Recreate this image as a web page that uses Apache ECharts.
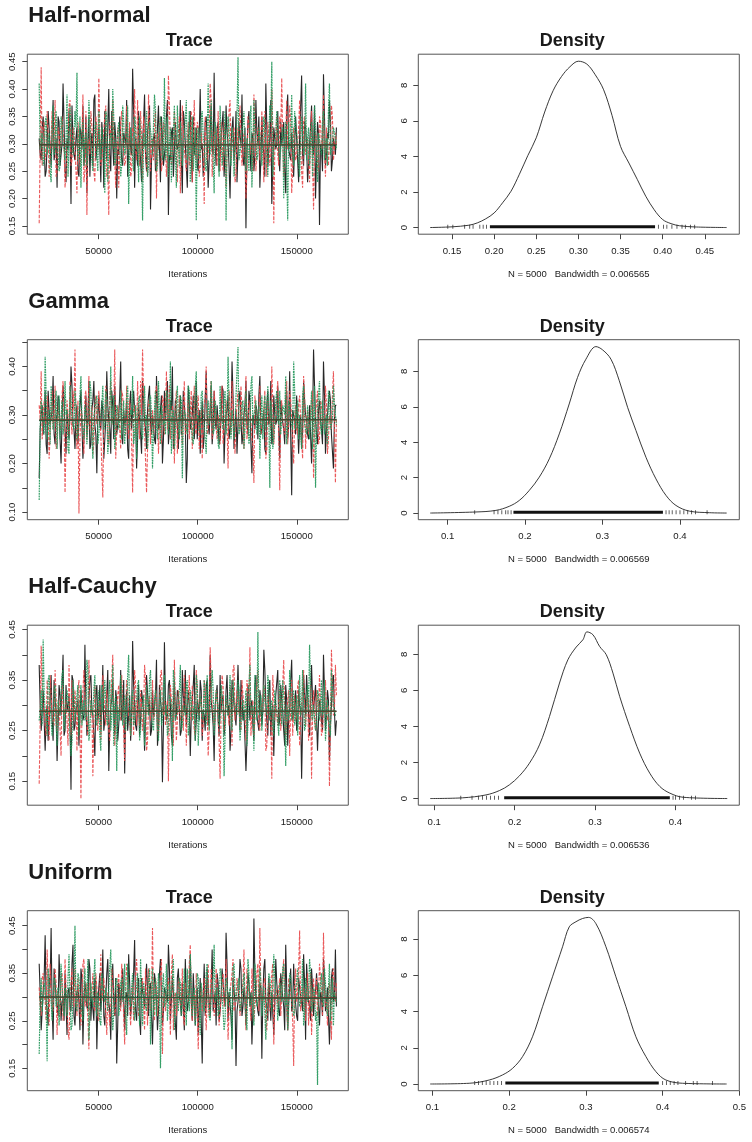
<!DOCTYPE html>
<html><head><meta charset="utf-8">
<script src="https://cdn.jsdelivr.net/npm/echarts@6/dist/echarts.min.js"></script>
<style>html,body{margin:0;padding:0;background:#fff}#c{width:752px;height:1142px}</style>
</head><body><div id="c"></div>
<script>
// ---------------- DATA ----------------
const priorNames = ['Half-normal', 'Gamma', 'Half-Cauchy', 'Uniform'];
const bandwidths = ['0.006565', '0.006569', '0.006536', '0.006574'];
const sampleN = 5000;
const iterStart = 20000, iterEnd = 170000;
const traceXTicks = [50000, 100000, 150000];

// Each chain is read as two interleaved sample lists (odd / even draws)
// Half-normal chains
const hnChain1 = [0.31,0.27,0.35,0.24,0.30,0.33,0.26,0.38,0.29,0.22,0.34,0.28,0.41,0.25,0.31,0.36,0.19,0.30,0.27,0.33,0.24,0.32,0.37,0.28,0.21,0.35,0.30,0.26,0.39,0.29,0.33,0.23,0.31,0.36,0.27,0.40,0.25,0.30,0.34,0.20,0.28,0.35,0.26,0.32,0.38,0.24,0.29,0.437,0.22,0.31,0.36,0.27,0.30,0.39,0.25,0.34,0.18,0.29,0.32,0.26,0.37,0.23,0.31,0.28,0.35,0.17,0.27,0.33,0.24,0.30,0.29,0.38,0.21,0.34,0.26,0.31,0.36,0.23,0.28,0.33,0.25,0.40,0.30,0.27,0.35,0.22,0.32,0.29,0.43,0.26,0.34,0.28,0.31,0.24,0.37,0.30,0.20,0.33,0.27,0.36,0.23,0.31,0.39,0.26,0.146,0.34,0.29,0.32,0.25,0.38,0.30,0.22,0.35,0.28,0.41,0.26,0.31,0.19,0.33,0.29,0.36,0.25,0.30,0.34,0.21,0.39,0.28,0.32,0.24,0.35,0.27,0.31,0.425,0.26,0.33,0.23,0.30,0.37,0.28,0.20,0.34,0.152,0.29,0.427,0.26,0.32,0.38,0.25,0.31,0.28];
const hnChain1b = [0.28,0.33,0.30,0.25,0.36,0.29,0.32,0.27,0.31,0.35,0.26,0.30,0.34,0.23,0.29,0.32,0.37,0.28,0.31,0.25,0.33,0.29,0.26,0.35,0.30,0.24,0.32,0.38,0.27,0.31,0.29,0.34,0.22,0.30,0.33,0.28,0.36,0.26,0.31,0.29,0.35,0.27,0.32,0.30,0.24,0.33,0.28,0.36,0.31,0.26,0.30,0.23,0.34,0.28,0.32,0.37,0.27,0.31,0.25,0.33,0.29,0.35,0.26,0.30,0.38,0.28,0.32,0.24,0.34,0.29,0.31,0.27,0.36,0.30,0.22,0.33,0.28,0.35,0.30,0.26,0.32,0.29,0.24,0.34,0.31,0.27,0.37,0.28,0.30,0.33,0.25,0.31,0.36,0.28,0.32,0.26,0.30,0.35,0.29,0.23,0.34,0.30,0.27,0.33,0.29,0.36,0.25,0.31,0.28,0.32,0.35,0.27,0.30,0.24,0.33,0.29,0.38,0.26,0.31,0.30,0.28,0.34,0.31,0.25,0.36,0.29,0.27,0.32,0.30,0.35,0.23,0.31,0.28,0.34,0.30,0.26,0.33,0.29,0.37,0.27,0.32,0.30,0.25,0.35,0.28,0.31,0.34,0.27,0.30,0.33];
const hnChain2 = [0.155,0.44,0.33,0.27,0.36,0.24,0.31,0.29,0.38,0.25,0.32,0.28,0.35,0.22,0.30,0.37,0.26,0.33,0.29,0.21,0.34,0.27,0.39,0.25,0.17,0.31,0.36,0.28,0.23,0.33,0.42,0.26,0.30,0.35,0.24,0.17,0.32,0.38,0.27,0.29,0.22,0.34,0.31,0.26,0.37,0.29,0.24,0.33,0.40,0.27,0.30,0.36,0.23,0.32,0.28,0.39,0.25,0.31,0.34,0.20,0.29,0.35,0.27,0.33,0.24,0.425,0.30,0.26,0.36,0.28,0.32,0.21,0.37,0.29,0.25,0.34,0.31,0.23,0.38,0.27,0.33,0.26,0.30,0.19,0.35,0.28,0.41,0.24,0.32,0.29,0.36,0.25,0.31,0.34,0.22,0.30,0.38,0.27,0.33,0.24,0.29,0.37,0.26,0.32,0.20,0.35,0.28,0.31,0.39,0.25,0.33,0.27,0.36,0.23,0.30,0.34,0.26,0.40,0.155,0.31,0.28,0.35,0.42,0.24,0.32,0.29,0.37,0.21,0.33,0.27,0.30,0.38,0.25,0.34,0.28,0.31,0.23,0.36,0.18,0.32,0.26,0.35,0.29,0.39,0.24,0.33,0.30,0.37,0.27,0.32];
const hnChain2b = [0.30,0.26,0.34,0.29,0.32,0.27,0.36,0.31,0.24,0.33,0.28,0.35,0.30,0.25,0.31,0.38,0.27,0.32,0.29,0.34,0.26,0.31,0.23,0.36,0.30,0.28,0.33,0.25,0.35,0.29,0.32,0.27,0.30,0.37,0.26,0.34,0.29,0.31,0.22,0.33,0.28,0.36,0.31,0.27,0.30,0.34,0.25,0.32,0.29,0.38,0.26,0.31,0.35,0.28,0.24,0.33,0.30,0.27,0.36,0.32,0.29,0.25,0.34,0.31,0.28,0.37,0.26,0.30,0.33,0.23,0.35,0.29,0.32,0.27,0.31,0.26,0.36,0.30,0.28,0.34,0.24,0.32,0.29,0.35,0.27,0.31,0.38,0.28,0.33,0.26,0.30,0.34,0.25,0.31,0.29,0.36,0.27,0.32,0.23,0.33,0.29,0.37,0.28,0.31,0.26,0.34,0.30,0.25,0.35,0.29,0.32,0.27,0.30,0.36,0.24,0.31,0.28,0.33,0.29,0.35,0.26,0.32,0.30,0.27,0.38,0.29,0.34,0.25,0.31,0.28,0.33,0.30,0.22,0.35,0.29,0.27,0.32,0.36,0.28,0.31,0.25,0.34,0.30,0.28,0.33,0.26,0.31,0.35,0.29,0.30];
const hnChain3 = [0.41,0.30,0.26,0.34,0.28,0.32,0.23,0.37,0.29,0.31,0.25,0.35,0.30,0.27,0.39,0.24,0.33,0.28,0.36,0.43,0.29,0.22,0.34,0.31,0.26,0.38,0.30,0.25,0.33,0.28,0.36,0.27,0.31,0.21,0.35,0.29,0.32,0.40,0.26,0.30,0.34,0.24,0.37,0.28,0.31,0.19,0.33,0.27,0.35,0.29,0.23,0.32,0.16,0.30,0.36,0.26,0.34,0.28,0.39,0.25,0.31,0.35,0.27,0.42,0.29,0.24,0.33,0.30,0.37,0.22,0.30,0.34,0.26,0.31,0.38,0.28,0.23,0.35,0.29,0.16,0.33,0.27,0.36,0.30,0.25,0.41,0.28,0.32,0.21,0.34,0.29,0.37,0.26,0.31,0.16,0.35,0.28,0.33,0.24,0.30,0.458,0.27,0.32,0.36,0.25,0.29,0.34,0.22,0.38,0.31,0.28,0.33,0.26,0.35,0.30,0.24,0.37,0.45,0.29,0.32,0.36,0.27,0.31,0.20,0.34,0.16,0.29,0.39,0.26,0.33,0.30,0.24,0.35,0.28,0.41,0.31,0.26,0.34,0.29,0.37,0.23,0.32,0.28,0.36,0.30,0.26,0.41,0.29,0.33,0.31];
const hnChain3b = [0.29,0.32,0.27,0.35,0.30,0.25,0.33,0.28,0.36,0.31,0.26,0.34,0.29,0.31,0.24,0.37,0.30,0.28,0.33,0.27,0.35,0.30,0.26,0.32,0.29,0.38,0.27,0.31,0.34,0.25,0.30,0.33,0.28,0.36,0.23,0.31,0.29,0.35,0.27,0.32,0.30,0.26,0.34,0.29,0.37,0.28,0.31,0.25,0.33,0.30,0.35,0.27,0.32,0.29,0.24,0.34,0.31,0.28,0.36,0.26,0.31,0.33,0.29,0.27,0.35,0.30,0.23,0.32,0.28,0.37,0.26,0.34,0.30,0.31,0.27,0.36,0.29,0.25,0.33,0.30,0.28,0.35,0.31,0.26,0.32,0.29,0.38,0.27,0.34,0.30,0.24,0.31,0.28,0.36,0.30,0.33,0.26,0.32,0.29,0.35,0.27,0.30,0.34,0.28,0.31,0.25,0.37,0.29,0.32,0.27,0.33,0.30,0.26,0.35,0.28,0.31,0.34,0.24,0.30,0.36,0.29,0.27,0.33,0.31,0.25,0.34,0.30,0.28,0.36,0.32,0.26,0.31,0.35,0.29,0.27,0.33,0.30,0.24,0.37,0.28,0.32,0.29,0.34,0.27,0.31,0.36,0.28,0.30,0.33,0.29];
// Gamma chains
const gaChain1 = [0.17,0.30,0.26,0.35,0.22,0.31,0.28,0.38,0.24,0.29,0.33,0.20,0.36,0.27,0.31,0.25,0.40,0.28,0.23,0.32,0.29,0.35,0.21,0.30,0.26,0.37,0.24,0.33,0.28,0.18,0.34,0.27,0.31,0.25,0.39,0.29,0.22,0.32,0.36,0.26,0.30,0.41,0.24,0.28,0.33,0.21,0.35,0.27,0.31,0.19,0.32,0.26,0.37,0.29,0.23,0.34,0.28,0.30,0.25,0.38,0.27,0.31,0.20,0.35,0.29,0.24,0.33,0.40,0.26,0.30,0.23,0.34,0.28,0.32,0.16,0.36,0.27,0.30,0.25,0.37,0.29,0.22,0.33,0.26,0.39,0.28,0.31,0.24,0.35,0.27,0.32,0.25,0.36,0.20,0.30,0.34,0.27,0.41,0.23,0.31,0.28,0.35,0.24,0.30,0.37,0.26,0.33,0.18,0.29,0.32,0.25,0.38,0.27,0.31,0.22,0.35,0.29,0.24,0.34,0.28,0.36,0.21,0.30,0.27,0.33,0.25,0.39,0.135,0.31,0.26,0.34,0.28,0.23,0.37,0.30,0.26,0.32,0.20,0.435,0.29,0.24,0.33,0.27,0.41,0.22,0.30,0.35,0.26,0.19,0.32];
const gaChain1b = [0.27,0.32,0.29,0.24,0.35,0.28,0.31,0.26,0.30,0.34,0.25,0.29,0.33,0.22,0.28,0.31,0.36,0.27,0.30,0.24,0.32,0.28,0.25,0.34,0.29,0.23,0.31,0.37,0.26,0.30,0.28,0.33,0.21,0.29,0.32,0.27,0.35,0.25,0.30,0.28,0.34,0.26,0.31,0.29,0.23,0.32,0.27,0.35,0.30,0.25,0.29,0.22,0.33,0.27,0.31,0.36,0.26,0.30,0.24,0.32,0.28,0.34,0.25,0.29,0.37,0.27,0.31,0.23,0.33,0.28,0.30,0.26,0.35,0.29,0.21,0.32,0.27,0.34,0.29,0.25,0.31,0.28,0.23,0.33,0.30,0.26,0.36,0.27,0.29,0.32,0.24,0.30,0.35,0.27,0.31,0.25,0.29,0.34,0.28,0.22,0.33,0.29,0.26,0.32,0.28,0.35,0.24,0.30,0.27,0.31,0.34,0.26,0.29,0.23,0.32,0.28,0.37,0.25,0.30,0.29,0.27,0.33,0.30,0.24,0.35,0.28,0.26,0.31,0.29,0.34,0.22,0.30,0.27,0.33,0.29,0.25,0.32,0.28,0.36,0.26,0.31,0.29,0.24,0.34,0.27,0.30,0.33,0.26,0.29,0.32];
const gaChain2 = [0.32,0.39,0.25,0.29,0.34,0.21,0.31,0.27,0.36,0.24,0.30,0.28,0.37,0.14,0.33,0.26,0.29,0.35,0.435,0.23,0.097,0.31,0.27,0.34,0.25,0.38,0.29,0.22,0.32,0.28,0.35,0.26,0.13,0.30,0.33,0.24,0.37,0.29,0.435,0.27,0.31,0.23,0.34,0.28,0.36,0.25,0.30,0.14,0.32,0.26,0.29,0.37,0.435,0.27,0.14,0.33,0.24,0.31,0.28,0.36,0.22,0.30,0.34,0.26,0.39,0.29,0.25,0.32,0.20,0.35,0.28,0.31,0.24,0.37,0.27,0.33,0.30,0.23,0.36,0.26,0.34,0.29,0.21,0.32,0.40,0.27,0.31,0.25,0.35,0.28,0.30,0.24,0.36,0.28,0.33,0.19,0.31,0.37,0.26,0.29,0.35,0.27,0.31,0.23,0.38,0.28,0.32,0.25,0.16,0.34,0.29,0.36,0.26,0.31,0.21,0.33,0.28,0.40,0.24,0.30,0.37,0.145,0.33,0.27,0.30,0.24,0.35,0.29,0.20,0.32,0.26,0.34,0.29,0.38,0.23,0.31,0.27,0.33,0.17,0.30,0.35,0.25,0.32,0.28,0.36,0.22,0.30,0.27,0.39,0.16];
const gaChain2b = [0.29,0.25,0.33,0.28,0.31,0.26,0.35,0.30,0.23,0.32,0.27,0.34,0.29,0.24,0.30,0.37,0.26,0.31,0.28,0.33,0.25,0.30,0.22,0.35,0.29,0.27,0.32,0.24,0.34,0.28,0.31,0.26,0.29,0.36,0.25,0.33,0.28,0.30,0.21,0.32,0.27,0.35,0.30,0.26,0.29,0.33,0.24,0.31,0.28,0.37,0.25,0.30,0.34,0.27,0.23,0.32,0.29,0.26,0.35,0.31,0.28,0.24,0.33,0.30,0.27,0.36,0.25,0.29,0.32,0.22,0.34,0.28,0.31,0.26,0.30,0.25,0.35,0.29,0.27,0.33,0.23,0.31,0.28,0.34,0.26,0.30,0.37,0.27,0.32,0.25,0.29,0.33,0.24,0.30,0.28,0.35,0.26,0.31,0.22,0.32,0.28,0.36,0.27,0.30,0.25,0.33,0.29,0.24,0.34,0.28,0.31,0.26,0.29,0.35,0.23,0.30,0.27,0.32,0.28,0.34,0.25,0.31,0.29,0.26,0.37,0.28,0.33,0.24,0.30,0.27,0.32,0.29,0.21,0.34,0.28,0.26,0.31,0.35,0.27,0.30,0.24,0.33,0.29,0.27,0.32,0.25,0.30,0.34,0.28,0.29];
const gaChain3 = [0.125,0.33,0.28,0.42,0.25,0.31,0.36,0.27,0.30,0.23,0.34,0.29,0.26,0.37,0.31,0.22,0.33,0.28,0.35,0.25,0.30,0.38,0.27,0.32,0.24,0.29,0.35,0.21,0.31,0.34,0.26,0.30,0.36,0.28,0.33,0.25,0.40,0.29,0.23,0.32,0.27,0.35,0.30,0.24,0.34,0.28,0.31,0.38,0.26,0.21,0.33,0.29,0.25,0.36,0.30,0.27,0.34,0.19,0.31,0.28,0.37,0.24,0.32,0.29,0.35,0.26,0.41,0.30,0.23,0.33,0.28,0.34,0.17,0.31,0.27,0.36,0.29,0.25,0.32,0.39,0.30,0.26,0.35,0.28,0.22,0.33,0.30,0.37,0.27,0.31,0.24,0.36,0.29,0.33,0.26,0.42,0.28,0.31,0.25,0.34,0.44,0.27,0.32,0.23,0.35,0.29,0.26,0.38,0.30,0.33,0.28,0.21,0.34,0.31,0.27,0.36,0.15,0.30,0.25,0.33,0.29,0.35,0.26,0.32,0.38,0.24,0.31,0.28,0.41,0.27,0.33,0.30,0.23,0.36,0.28,0.32,0.25,0.35,0.29,0.15,0.31,0.37,0.26,0.33,0.29,0.24,0.34,0.28,0.36,0.30];
const gaChain3b = [0.28,0.31,0.26,0.34,0.29,0.24,0.32,0.27,0.35,0.30,0.25,0.33,0.28,0.30,0.23,0.36,0.29,0.27,0.32,0.26,0.34,0.29,0.25,0.31,0.28,0.37,0.26,0.30,0.33,0.24,0.29,0.32,0.27,0.35,0.22,0.30,0.28,0.34,0.26,0.31,0.29,0.25,0.33,0.28,0.36,0.27,0.30,0.24,0.32,0.29,0.34,0.26,0.31,0.28,0.23,0.33,0.30,0.27,0.35,0.25,0.30,0.32,0.28,0.26,0.34,0.29,0.22,0.31,0.27,0.36,0.25,0.33,0.29,0.30,0.26,0.35,0.28,0.24,0.32,0.29,0.27,0.34,0.30,0.25,0.31,0.28,0.37,0.26,0.33,0.29,0.23,0.30,0.27,0.35,0.29,0.32,0.25,0.31,0.28,0.34,0.26,0.29,0.33,0.27,0.30,0.24,0.36,0.28,0.31,0.26,0.32,0.29,0.25,0.34,0.27,0.30,0.33,0.23,0.29,0.35,0.28,0.26,0.32,0.30,0.24,0.33,0.29,0.27,0.35,0.31,0.25,0.30,0.34,0.28,0.26,0.32,0.29,0.23,0.36,0.27,0.31,0.28,0.33,0.26,0.30,0.35,0.27,0.29,0.32,0.28];
// Half-Cauchy chains
const hcChain1 = [0.38,0.25,0.33,0.21,0.30,0.27,0.36,0.23,0.31,0.19,0.34,0.28,0.40,0.25,0.29,0.32,0.133,0.35,0.26,0.30,0.22,0.33,0.27,0.42,0.24,0.31,0.36,0.28,0.20,0.34,0.29,0.25,0.38,0.27,0.32,0.17,0.30,0.35,0.24,0.31,0.26,0.37,0.29,0.165,0.33,0.28,0.23,0.427,0.30,0.25,0.34,0.27,0.31,0.21,0.36,0.29,0.24,0.33,0.28,0.39,0.25,0.31,0.148,0.425,0.27,0.34,0.30,0.22,0.35,0.28,0.32,0.24,0.37,0.29,0.26,0.33,0.20,0.31,0.38,0.27,0.30,0.35,0.23,0.28,0.34,0.26,0.40,0.29,0.19,0.32,0.27,0.36,0.31,0.24,0.33,0.28,0.21,0.35,0.30,0.26,0.38,0.25,0.32,0.29,0.17,0.34,0.27,0.31,0.23,0.36,0.28,0.33,0.26,0.41,0.30,0.24,0.35,0.29,0.20,0.32,0.37,0.27,0.31,0.25,0.34,0.22,0.29,0.39,0.28,0.33,0.26,0.30,0.155,0.36,0.28,0.32,0.24,0.38,0.29,0.34,0.21,0.31,0.27,0.40,0.25,0.33,0.19,0.30,0.36,0.24];
const hcChain1b = [0.30,0.25,0.33,0.28,0.23,0.31,0.27,0.35,0.29,0.26,0.32,0.28,0.24,0.34,0.30,0.27,0.36,0.25,0.29,0.31,0.22,0.33,0.28,0.30,0.26,0.35,0.29,0.24,0.32,0.27,0.34,0.30,0.25,0.29,0.37,0.26,0.31,0.28,0.33,0.23,0.30,0.27,0.35,0.29,0.25,0.32,0.28,0.34,0.26,0.30,0.24,0.33,0.29,0.27,0.36,0.31,0.25,0.28,0.32,0.22,0.34,0.29,0.26,0.31,0.28,0.35,0.24,0.30,0.27,0.33,0.29,0.25,0.32,0.37,0.26,0.30,0.28,0.34,0.23,0.31,0.27,0.33,0.29,0.25,0.35,0.28,0.31,0.26,0.30,0.34,0.24,0.29,0.32,0.27,0.36,0.30,0.25,0.33,0.28,0.26,0.31,0.35,0.27,0.29,0.23,0.32,0.30,0.26,0.34,0.28,0.25,0.31,0.29,0.37,0.27,0.33,0.24,0.30,0.28,0.32,0.26,0.34,0.29,0.22,0.31,0.28,0.35,0.27,0.30,0.25,0.33,0.29,0.26,0.32,0.36,0.28,0.24,0.31,0.29,0.34,0.27,0.30,0.25,0.33,0.28,0.31,0.26,0.35,0.29,0.27];
const hcChain2 = [0.145,0.418,0.30,0.26,0.35,0.23,0.32,0.28,0.37,0.25,0.31,0.20,0.34,0.29,0.27,0.38,0.24,0.30,0.33,0.21,0.35,0.115,0.29,0.32,0.26,0.39,0.28,0.16,0.34,0.27,0.30,0.23,0.36,0.28,0.33,0.25,0.31,0.40,0.22,0.29,0.34,0.27,0.31,0.19,0.35,0.28,0.24,0.32,0.37,0.26,0.29,0.33,0.25,0.38,0.21,0.30,0.27,0.35,0.28,0.32,0.24,0.36,0.29,0.31,0.26,0.15,0.34,0.28,0.39,0.23,0.33,0.27,0.30,0.36,0.22,0.31,0.28,0.34,0.25,0.37,0.29,0.32,0.24,0.35,0.27,0.20,0.415,0.30,0.26,0.33,0.28,0.155,0.36,0.25,0.31,0.29,0.34,0.22,0.38,0.27,0.32,0.26,0.35,0.30,0.23,0.33,0.415,0.28,0.24,0.31,0.37,0.25,0.29,0.34,0.21,0.32,0.27,0.155,0.36,0.30,0.26,0.33,0.28,0.39,0.24,0.31,0.20,0.35,0.29,0.27,0.34,0.22,0.30,0.37,0.26,0.32,0.28,0.155,0.33,0.25,0.31,0.36,0.24,0.29,0.35,0.27,0.14,0.41,0.28,0.38];
const hcChain2b = [0.27,0.33,0.29,0.24,0.31,0.36,0.28,0.26,0.32,0.30,0.25,0.34,0.28,0.31,0.22,0.29,0.35,0.27,0.30,0.33,0.26,0.29,0.37,0.28,0.24,0.32,0.30,0.27,0.34,0.25,0.31,0.28,0.33,0.26,0.30,0.23,0.35,0.29,0.27,0.32,0.28,0.36,0.25,0.30,0.33,0.27,0.29,0.24,0.34,0.31,0.26,0.30,0.28,0.35,0.23,0.32,0.29,0.27,0.33,0.25,0.30,0.37,0.28,0.26,0.31,0.29,0.34,0.22,0.30,0.27,0.33,0.28,0.25,0.32,0.30,0.36,0.27,0.29,0.24,0.34,0.28,0.31,0.26,0.33,0.29,0.25,0.35,0.30,0.27,0.32,0.23,0.29,0.34,0.28,0.31,0.26,0.30,0.37,0.27,0.33,0.29,0.25,0.32,0.28,0.35,0.30,0.24,0.31,0.27,0.34,0.26,0.30,0.29,0.33,0.22,0.32,0.28,0.36,0.27,0.30,0.31,0.25,0.34,0.29,0.27,0.33,0.30,0.24,0.32,0.28,0.35,0.26,0.30,0.29,0.31,0.23,0.34,0.28,0.27,0.33,0.29,0.36,0.25,0.31,0.28,0.30,0.26,0.34,0.29,0.32];
const hcChain3 = [0.27,0.33,0.43,0.29,0.24,0.36,0.30,0.26,0.34,0.22,0.31,0.28,0.37,0.25,0.33,0.29,0.20,0.35,0.27,0.32,0.24,0.34,0.30,0.27,0.39,0.23,0.31,0.28,0.36,0.26,0.33,0.21,0.29,0.35,0.27,0.31,0.25,0.38,0.30,0.17,0.28,0.36,0.26,0.32,0.29,0.40,0.24,0.33,0.27,0.31,0.35,0.25,0.30,0.22,0.34,0.28,0.37,0.26,0.31,0.29,0.23,0.33,0.27,0.36,0.30,0.25,0.32,0.19,0.35,0.28,0.31,0.38,0.26,0.29,0.34,0.24,0.33,0.27,0.30,0.36,0.22,0.32,0.28,0.35,0.26,0.31,0.29,0.37,0.24,0.33,0.30,0.27,0.34,0.16,0.32,0.28,0.36,0.25,0.31,0.29,0.35,0.23,0.30,0.27,0.33,0.26,0.38,0.29,0.21,0.32,0.445,0.28,0.25,0.34,0.30,0.36,0.27,0.31,0.24,0.33,0.29,0.35,0.26,0.32,0.18,0.30,0.37,0.27,0.33,0.28,0.24,0.36,0.29,0.31,0.26,0.34,0.42,0.28,0.30,0.25,0.33,0.27,0.35,0.29,0.23,0.31,0.26,0.37,0.30,0.28];
const hcChain3b = [0.29,0.26,0.32,0.28,0.35,0.30,0.24,0.33,0.27,0.31,0.28,0.36,0.25,0.30,0.33,0.29,0.23,0.32,0.27,0.34,0.30,0.26,0.31,0.28,0.37,0.25,0.29,0.33,0.27,0.30,0.24,0.34,0.29,0.31,0.26,0.35,0.28,0.22,0.32,0.30,0.27,0.33,0.29,0.25,0.36,0.28,0.31,0.26,0.30,0.34,0.23,0.29,0.32,0.27,0.30,0.35,0.28,0.25,0.33,0.29,0.31,0.26,0.34,0.28,0.24,0.32,0.30,0.37,0.27,0.29,0.33,0.25,0.30,0.28,0.35,0.26,0.31,0.29,0.23,0.34,0.28,0.32,0.27,0.30,0.36,0.25,0.29,0.33,0.28,0.31,0.26,0.34,0.30,0.24,0.32,0.29,0.27,0.35,0.30,0.28,0.33,0.26,0.31,0.29,0.22,0.34,0.28,0.30,0.36,0.27,0.29,0.32,0.25,0.31,0.28,0.34,0.30,0.26,0.33,0.29,0.24,0.31,0.35,0.28,0.30,0.27,0.33,0.29,0.26,0.32,0.30,0.28,0.37,0.25,0.31,0.29,0.34,0.27,0.30,0.26,0.32,0.29,0.28,0.35,0.27,0.31,0.24,0.33,0.30,0.28];
// Uniform chains
const unChain1 = [0.37,0.23,0.31,0.43,0.27,0.34,0.445,0.21,0.33,0.28,0.39,0.25,0.30,0.35,0.22,0.32,0.27,0.41,0.24,0.31,0.29,0.36,0.20,0.33,0.28,0.38,0.25,0.30,0.34,0.19,0.32,0.27,0.40,0.24,0.35,0.29,0.21,0.37,0.26,0.16,0.33,0.28,0.36,0.23,0.31,0.39,0.26,0.30,0.42,0.25,0.34,0.22,0.31,0.28,0.37,0.26,0.33,0.20,0.35,0.29,0.27,0.38,0.24,0.32,0.30,0.41,0.25,0.34,0.28,0.21,0.36,0.29,0.33,0.23,0.31,0.27,0.39,0.25,0.35,0.30,0.22,0.34,0.16,0.37,0.28,0.32,0.26,0.40,0.29,0.24,0.33,0.27,0.36,0.30,0.435,0.25,0.31,0.21,0.34,0.155,0.29,0.38,0.26,0.32,0.24,0.35,0.28,0.20,0.465,0.30,0.27,0.33,0.17,0.36,0.29,0.25,0.34,0.31,0.22,0.38,0.30,0.26,0.35,0.28,0.41,0.23,0.32,0.27,0.37,0.31,0.25,0.34,0.29,0.39,0.21,0.33,0.28,0.36,0.26,0.31,0.35,0.24,0.30,0.38,0.27,0.32,0.20,0.34,0.29,0.40];
const unChain1b = [0.31,0.27,0.34,0.29,0.24,0.32,0.28,0.36,0.30,0.26,0.33,0.29,0.25,0.35,0.31,0.28,0.37,0.26,0.30,0.32,0.23,0.34,0.29,0.31,0.27,0.36,0.30,0.25,0.33,0.28,0.35,0.31,0.26,0.30,0.38,0.27,0.32,0.29,0.34,0.24,0.31,0.28,0.36,0.30,0.26,0.33,0.29,0.35,0.27,0.31,0.25,0.34,0.30,0.28,0.37,0.32,0.26,0.29,0.33,0.23,0.35,0.30,0.27,0.32,0.29,0.36,0.25,0.31,0.28,0.34,0.30,0.26,0.33,0.38,0.27,0.31,0.29,0.35,0.24,0.32,0.28,0.34,0.30,0.26,0.36,0.29,0.32,0.27,0.31,0.35,0.25,0.30,0.33,0.28,0.37,0.31,0.26,0.34,0.29,0.27,0.32,0.36,0.28,0.30,0.24,0.33,0.31,0.27,0.35,0.29,0.26,0.32,0.30,0.38,0.28,0.34,0.25,0.31,0.29,0.33,0.27,0.35,0.30,0.23,0.32,0.29,0.36,0.28,0.31,0.26,0.34,0.30,0.27,0.33,0.37,0.29,0.25,0.32,0.30,0.35,0.28,0.31,0.26,0.34,0.29,0.32,0.27,0.36,0.30,0.28];
const unChain2 = [0.32,0.26,0.35,0.29,0.40,0.24,0.31,0.27,0.36,0.22,0.30,0.34,0.25,0.38,0.28,0.21,0.33,0.29,0.36,0.26,0.31,0.24,0.37,0.28,0.33,0.19,0.30,0.35,0.27,0.32,0.25,0.39,0.29,0.34,0.22,0.31,0.28,0.36,0.26,0.30,0.35,0.27,0.32,0.20,0.37,0.29,0.24,0.33,0.28,0.38,0.26,0.31,0.34,0.23,0.30,0.36,0.27,0.445,0.25,0.32,0.29,0.35,0.18,0.31,0.27,0.34,0.22,0.39,0.30,0.26,0.33,0.28,0.36,0.24,0.32,0.29,0.41,0.25,0.31,0.35,0.19,0.30,0.27,0.34,0.23,0.37,0.28,0.32,0.26,0.36,0.30,0.24,0.33,0.28,0.38,0.21,0.31,0.35,0.27,0.29,0.34,0.26,0.31,0.40,0.23,0.32,0.28,0.36,0.25,0.30,0.37,0.445,0.29,0.33,0.24,0.31,0.27,0.35,0.20,0.32,0.28,0.34,0.26,0.38,0.30,0.23,0.33,0.29,0.155,0.36,0.31,0.44,0.27,0.32,0.25,0.35,0.29,0.22,0.34,0.30,0.26,0.37,0.31,0.435,0.28,0.24,0.33,0.21,0.36,0.29];
const unChain2b = [0.28,0.34,0.30,0.25,0.32,0.37,0.29,0.27,0.33,0.31,0.26,0.35,0.29,0.32,0.23,0.30,0.36,0.28,0.31,0.34,0.27,0.30,0.38,0.29,0.25,0.33,0.31,0.28,0.35,0.26,0.32,0.29,0.34,0.27,0.31,0.24,0.36,0.30,0.28,0.33,0.29,0.37,0.26,0.31,0.34,0.28,0.30,0.25,0.35,0.32,0.27,0.31,0.29,0.36,0.24,0.33,0.30,0.28,0.34,0.26,0.31,0.38,0.29,0.27,0.32,0.30,0.35,0.23,0.31,0.28,0.34,0.29,0.26,0.33,0.31,0.37,0.28,0.30,0.25,0.35,0.29,0.32,0.27,0.34,0.30,0.26,0.36,0.31,0.28,0.33,0.24,0.30,0.35,0.29,0.32,0.27,0.31,0.38,0.28,0.34,0.30,0.26,0.33,0.29,0.36,0.31,0.25,0.32,0.28,0.35,0.27,0.31,0.30,0.34,0.23,0.33,0.29,0.37,0.28,0.31,0.32,0.26,0.35,0.30,0.28,0.34,0.31,0.25,0.33,0.29,0.36,0.27,0.31,0.30,0.32,0.24,0.35,0.29,0.28,0.34,0.30,0.37,0.26,0.32,0.29,0.31,0.27,0.35,0.30,0.33];
const unChain3 = [0.18,0.34,0.27,0.31,0.165,0.36,0.29,0.25,0.33,0.30,0.24,0.37,0.28,0.32,0.26,0.39,0.23,0.31,0.45,0.27,0.34,0.29,0.25,0.36,0.30,0.21,0.33,0.28,0.38,0.26,0.31,0.24,0.35,0.29,0.32,0.27,0.40,0.23,0.30,0.34,0.26,0.33,0.29,0.37,0.22,0.31,0.28,0.35,0.25,0.32,0.30,0.38,0.24,0.33,0.27,0.31,0.20,0.36,0.29,0.26,0.35,0.15,0.32,0.28,0.37,0.25,0.30,0.34,0.23,0.31,0.27,0.33,0.29,0.36,0.24,0.31,0.39,0.26,0.32,0.28,0.34,0.22,0.30,0.27,0.35,0.29,0.25,0.33,0.41,0.30,0.26,0.36,0.31,0.23,0.34,0.28,0.32,0.19,0.37,0.29,0.33,0.27,0.30,0.35,0.25,0.38,0.28,0.31,0.24,0.34,0.29,0.36,0.26,0.32,0.21,0.30,0.34,0.27,0.39,0.31,0.25,0.33,0.29,0.37,0.28,0.23,0.35,0.30,0.26,0.32,0.36,0.28,0.31,0.24,0.34,0.29,0.38,0.27,0.32,0.25,0.115,0.30,0.35,0.28,0.33,0.26,0.37,0.29,0.24,0.31];
const unChain3b = [0.30,0.27,0.33,0.29,0.36,0.31,0.25,0.34,0.28,0.32,0.29,0.37,0.26,0.31,0.34,0.30,0.24,0.33,0.28,0.35,0.31,0.27,0.32,0.29,0.38,0.26,0.30,0.34,0.28,0.31,0.25,0.35,0.30,0.32,0.27,0.36,0.29,0.23,0.33,0.31,0.28,0.34,0.30,0.26,0.37,0.29,0.32,0.27,0.31,0.35,0.24,0.30,0.33,0.28,0.31,0.36,0.29,0.26,0.34,0.30,0.32,0.27,0.35,0.29,0.25,0.33,0.31,0.38,0.28,0.30,0.34,0.26,0.31,0.29,0.36,0.27,0.32,0.30,0.24,0.35,0.29,0.33,0.28,0.31,0.37,0.26,0.30,0.34,0.29,0.32,0.27,0.35,0.31,0.25,0.33,0.30,0.28,0.36,0.31,0.29,0.34,0.27,0.32,0.30,0.23,0.35,0.29,0.31,0.37,0.28,0.30,0.33,0.26,0.32,0.29,0.35,0.31,0.27,0.34,0.30,0.25,0.32,0.36,0.29,0.31,0.28,0.34,0.30,0.27,0.33,0.31,0.29,0.38,0.26,0.32,0.30,0.35,0.28,0.31,0.27,0.33,0.30,0.29,0.36,0.28,0.32,0.25,0.34,0.31,0.29];

// smoothed running lines per chain: [start, end]
const hnSmooth = [[0.299,0.298],[0.298,0.299],[0.298,0.298]];
const gaSmooth = [[0.289,0.291],[0.290,0.290],[0.289,0.290]];
const hcSmooth = [[0.288,0.288],[0.289,0.288],[0.288,0.289]];
const unSmooth = [[0.300,0.298],[0.299,0.298],[0.300,0.297]];

// trace y axis ticks / labels
const hnTraceYTicks = [0.15,0.20,0.25,0.30,0.35,0.40,0.45];
const hnTraceYLabels = [0.15,0.20,0.25,0.30,0.35,0.40,0.45];
const gaTraceYTicks = [0.10,0.15,0.20,0.25,0.30,0.35,0.40,0.45];
const gaTraceYLabels = [0.10,0.20,0.30,0.40];
const hcTraceYTicks = [0.15,0.20,0.25,0.30,0.35,0.40,0.45];
const hcTraceYLabels = [0.15,0.25,0.35,0.45];
const unTraceYTicks = [0.15,0.20,0.25,0.30,0.35,0.40,0.45];
const unTraceYLabels = [0.15,0.25,0.35,0.45];

// density curves
const hnDensX = [0.124,0.15,0.17,0.18,0.19,0.20,0.21,0.22,0.23,0.24,0.25,0.26,0.27,0.28,0.29,0.30,0.31,0.32,0.33,0.34,0.35,0.36,0.37,0.38,0.39,0.40,0.41,0.42,0.44,0.476];
const hnDensY = [0,0.04,0.13,0.26,0.49,0.82,1.39,2.04,3.0,4.05,5.05,6.5,7.7,8.5,9.05,9.36,9.2,8.6,7.75,6.3,4.57,3.63,2.7,1.76,1.0,0.45,0.22,0.1,0.03,0];
const gaDensX = [0.0776,0.1366,0.1624,0.1796,0.1925,0.2055,0.2184,0.2313,0.2442,0.257,0.2678,0.2786,0.2915,0.300,0.3109,0.3217,0.3324,0.3432,0.3561,0.369,0.3819,0.3948,0.412,0.4379,0.4603];
const gaDensY = [0,0.06,0.15,0.38,0.71,1.28,2.03,3.06,4.47,6.16,7.66,8.69,9.4,9.22,8.69,7.47,5.97,4.66,3.15,1.93,1.0,0.43,0.11,0.02,0];
const hcDensX = [0.095,0.1353,0.1644,0.181,0.1935,0.206,0.2184,0.2309,0.2434,0.2558,0.2662,0.2766,0.2849,0.2899,0.2974,0.3057,0.314,0.3223,0.3306,0.3431,0.3555,0.368,0.3805,0.393,0.4096,0.4644];
const hcDensY = [0,0.04,0.2,0.44,0.76,1.26,1.96,2.98,4.56,6.41,7.7,8.41,8.81,9.25,9.09,8.44,7.98,6.96,5.67,4.0,2.52,1.41,0.67,0.3,0.07,0];
const unDensX = [0.097,0.1478,0.1739,0.1913,0.2043,0.2174,0.2304,0.2435,0.2565,0.2696,0.2783,0.287,0.2957,0.3035,0.313,0.3261,0.3391,0.3522,0.3652,0.3783,0.3913,0.4043,0.4261,0.4835];
const unDensY = [0,0.04,0.22,0.5,0.86,1.51,2.61,4.27,5.92,7.58,8.68,8.96,9.14,9.2,8.86,7.58,5.92,4.27,2.61,1.51,0.68,0.22,0.04,0];

// observation rugs: dense band [from, to] and sparse individual ticks
const hnRugBand = [0.195, 0.391];
const hnRugTicks = [0.145,0.151,0.165,0.171,0.175,0.183,0.187,0.191,0.395,0.401,0.405,0.411,0.417,0.423,0.427,0.433,0.438];
const gaRugBand = [0.185, 0.378];
const gaRugTicks = [0.135,0.160,0.165,0.170,0.175,0.178,0.182,0.382,0.386,0.390,0.395,0.400,0.405,0.410,0.415,0.420,0.435];
const hcRugBand = [0.187, 0.393];
const hcRugTicks = [0.133,0.147,0.155,0.160,0.165,0.170,0.175,0.180,0.397,0.400,0.405,0.410,0.420,0.425];
const unRugBand = [0.195, 0.395];
const unRugTicks = [0.155,0.160,0.165,0.170,0.175,0.180,0.185,0.190,0.400,0.405,0.410,0.415,0.420,0.430,0.440,0.445,0.465];

const densYTicks = [0,2,4,6,8];
const hnDensXTicks = [0.15,0.20,0.25,0.30,0.35,0.40,0.45];
const gaDensXTicks = [0.1,0.2,0.3,0.4];
const hcDensXTicks = [0.1,0.2,0.3,0.4];
const unDensXTicks = [0.1,0.2,0.3,0.4,0.5];

// ---------------- LAYOUT / STYLE ----------------
const FONT = "'Liberation Sans', Arial, Helvetica, sans-serif";
const rowStep = 285.5, rowTop0 = 54.2, rowH = 180;
const traceLeft = 27.3, densLeft = 418.3, boxW = 321;
const traceXRange = [14000, 176000];
const traceYRanges = [[0.135,0.4637],[0.0844,0.455],[0.1025,0.4585],[0.103,0.4815]];
const densXRanges = [[0.110,0.491],[0.0622,0.4766],[0.0802,0.4794],[0.0815,0.5]];
const densYRanges = [[-0.375,9.755],[-0.376,9.79],[-0.37,9.62],[-0.37,9.57]];
const densXDecimals = [2,1,1,1];
const chainColors = ['#151515', '#E84A4C', '#26985C'];
const chainDash = ['solid', [3.5,1.5], [1.8,0.8]];
const chainWidth = [1.1, 1.1, 1.2];

const rows = [
  {chains:[[hnChain1,hnChain1b],[hnChain2,hnChain2b],[hnChain3,hnChain3b]], smooth:hnSmooth, yTicks:hnTraceYTicks, yLabels:hnTraceYLabels, dx:hnDensX, dy:hnDensY, band:hnRugBand, rug:hnRugTicks, dxt:hnDensXTicks},
  {chains:[[gaChain1,gaChain1b],[gaChain2,gaChain2b],[gaChain3,gaChain3b]], smooth:gaSmooth, yTicks:gaTraceYTicks, yLabels:gaTraceYLabels, dx:gaDensX, dy:gaDensY, band:gaRugBand, rug:gaRugTicks, dxt:gaDensXTicks},
  {chains:[[hcChain1,hcChain1b],[hcChain2,hcChain2b],[hcChain3,hcChain3b]], smooth:hcSmooth, yTicks:hcTraceYTicks, yLabels:hcTraceYLabels, dx:hcDensX, dy:hcDensY, band:hcRugBand, rug:hcRugTicks, dxt:hcDensXTicks},
  {chains:[[unChain1,unChain1b],[unChain2,unChain2b],[unChain3,unChain3b]], smooth:unSmooth, yTicks:unTraceYTicks, yLabels:unTraceYLabels, dx:unDensX, dy:unDensY, band:unRugBand, rug:unRugTicks, dxt:unDensXTicks}
];

const grids = [], xAxes = [], yAxes = [], series = [], titles = [];
const txt = '#1a1a1a', boxColor = '#555', tickColor = '#444';

function baseAxis(extra) {
  return Object.assign({
    type: 'value',
    axisLine: {show: false, onZero: false},
    splitLine: {show: false},
  }, extra);
}

// merge the two interleaved draw lists of a chain into sample order
function chainSamples(pair) {
  const a = pair[0], b = pair[1], out = [];
  for (let i = 0; i < a.length; i++) { out.push(a[i]); if (i < b.length) out.push(b[i]); }
  return out;
}

rows.forEach((row, r) => {
  const top = rowTop0 + rowStep * r;
  const gT = 2 * r, gD = 2 * r + 1;
  grids.push({left: traceLeft, top: top, width: boxW, height: rowH, show: true, borderColor: boxColor, borderWidth: 1, backgroundColor: 'transparent', containLabel: false, outerBoundsMode: 'none'});
  grids.push({left: densLeft, top: top, width: boxW, height: rowH, show: true, borderColor: boxColor, borderWidth: 1, backgroundColor: 'transparent', containLabel: false, outerBoundsMode: 'none'});

  titles.push({text: priorNames[r], left: 28.3, top: 16 + rowStep * r, textAlign: 'left', textVerticalAlign: 'middle', padding: 0,
    textStyle: {fontFamily: FONT, fontSize: 22, fontWeight: 'bold', color: txt}});
  titles.push({text: 'Trace', left: 189.3, top: 41.5 + rowStep * r, textAlign: 'center', textVerticalAlign: 'middle', padding: 0,
    textStyle: {fontFamily: FONT, fontSize: 18, fontWeight: 'bold', color: txt}});
  titles.push({text: 'Density', left: 572.2, top: 41.5 + rowStep * r, textAlign: 'center', textVerticalAlign: 'middle', padding: 0,
    textStyle: {fontFamily: FONT, fontSize: 18, fontWeight: 'bold', color: txt}});

  xAxes.push(baseAxis({gridIndex: gT, min: traceXRange[0], max: traceXRange[1],
    axisTick: {show: true, inside: false, length: 5, customValues: traceXTicks, lineStyle: {color: tickColor, width: 1}},
    axisLabel: {customValues: traceXTicks, margin: 12, fontFamily: FONT, fontSize: 9.6, color: txt, formatter: v => String(Math.round(v))},
    name: 'Iterations', nameLocation: 'middle', nameGap: 35, nameTextStyle: {fontFamily: FONT, fontSize: 9.5, color: txt}}));
  yAxes.push(baseAxis({gridIndex: gT, min: traceYRanges[r][0], max: traceYRanges[r][1],
    axisTick: {show: true, inside: false, length: 5, customValues: row.yTicks, lineStyle: {color: tickColor, width: 1}},
    axisLabel: {customValues: row.yLabels, rotate: 90, margin: 10, fontFamily: FONT, fontSize: 9.6, color: txt, formatter: v => Number(v).toFixed(2)}}));

  xAxes.push(baseAxis({gridIndex: gD, min: densXRanges[r][0], max: densXRanges[r][1],
    axisTick: {show: true, inside: false, length: 5, customValues: row.dxt, lineStyle: {color: tickColor, width: 1}},
    axisLabel: {customValues: row.dxt, margin: 12, fontFamily: FONT, fontSize: 9.6, color: txt, formatter: v => Number(v).toFixed(densXDecimals[r])},
    name: 'N = ' + sampleN + '   Bandwidth = ' + bandwidths[r], nameLocation: 'middle', nameGap: 35, nameTextStyle: {fontFamily: FONT, fontSize: 9.5, color: txt}}));
  yAxes.push(baseAxis({gridIndex: gD, min: densYRanges[r][0], max: densYRanges[r][1],
    axisTick: {show: true, inside: false, length: 5, customValues: densYTicks, lineStyle: {color: tickColor, width: 1}},
    axisLabel: {customValues: densYTicks, rotate: 90, margin: 9, fontFamily: FONT, fontSize: 9.6, color: txt, formatter: v => String(v)}}));

  row.chains.forEach((pair, c) => {
    const vals = chainSamples(pair);
    const n = vals.length;
    series.push({type: 'line', xAxisIndex: gT, yAxisIndex: gT, symbol: 'none', silent: true, animation: false, z: 2 + c,
      data: vals.map((v, i) => [iterStart + i * (iterEnd - iterStart) / (n - 1), v]),
      lineStyle: {color: chainColors[c], width: chainWidth[c], type: chainDash[c], opacity: 0.92}});
  });
  row.smooth.forEach((s, c) => {
    series.push({type: 'line', xAxisIndex: gT, yAxisIndex: gT, symbol: 'none', silent: true, animation: false, z: 6,
      data: [[iterStart, s[0]], [iterEnd, s[1]]],
      lineStyle: {color: c === 0 ? '#222' : (c === 1 ? '#8a3a2a' : '#2a5a3a'), width: 1}});
  });

  series.push({type: 'line', xAxisIndex: gD, yAxisIndex: gD, symbol: 'none', silent: true, animation: false, smooth: 0.35, z: 3,
    data: row.dx.map((x, i) => [x, row.dy[i]]), lineStyle: {color: '#222', width: 0.9}});
  series.push({type: 'line', xAxisIndex: gD, yAxisIndex: gD, symbol: 'none', silent: true, animation: false, z: 4,
    data: [[row.band[0], 0.05], [row.band[1], 0.05]], lineStyle: {color: '#111', width: 3}});
  series.push({type: 'scatter', xAxisIndex: gD, yAxisIndex: gD, silent: true, animation: false, z: 4,
    symbol: 'rect', symbolSize: [0.9, 4], data: row.rug.map(x => [x, 0.05]), itemStyle: {color: '#222'}});
});

const chart = echarts.init(document.getElementById('c'), null, {renderer: 'canvas', width: 752, height: 1142});
chart.setOption({
  animation: false,
  backgroundColor: '#ffffff',
  title: titles,
  grid: grids,
  xAxis: xAxes,
  yAxis: yAxes,
  series: series
});
</script>
</body></html>
